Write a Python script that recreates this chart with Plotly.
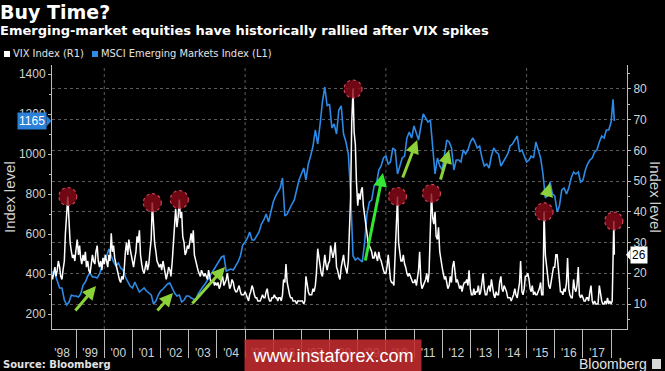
import pandas as pd
import plotly.graph_objects as go

# ---------------- data ----------------
# VIX, semi-monthly (1st and 15th), Feb 1998 .. Jan 2018
vix_values = [
    21, 19, 18, 20, 22, 19, 21, 24, 22, 19, 18, 21, 24, 33, 40, 45, 37, 30, 27, 25, 26, 24,  # 1998 (Feb-Dec)
    28, 31, 26, 29, 25, 23, 26, 24, 27, 22, 24, 21, 20, 23, 26, 24, 23, 27, 29, 24, 22, 24, 21, 25,  # 1999
    23, 26, 24, 22, 26, 24, 33, 27, 29, 25, 23, 21, 19, 18, 17, 19, 18, 21, 27, 30, 26, 31, 28, 26,  # 2000
    24, 22, 25, 27, 32, 30, 34, 26, 23, 21, 20, 22, 24, 21, 23, 27, 31, 43, 35, 30, 27, 24, 23, 22,  # 2001
    23, 21, 24, 22, 19, 18, 20, 22, 21, 19, 24, 30, 36, 41, 35, 38, 44, 38, 40, 32, 30, 26, 27, 29,  # 2002
    28, 31, 33, 30, 34, 26, 24, 22, 21, 20, 19, 21, 20, 19, 20, 19, 18, 21, 19, 17, 17, 18, 16, 17,  # 2003
    16, 17, 15, 16, 18, 19, 16, 17, 18, 20, 17, 15, 16, 18, 17, 15, 14, 14, 15, 16, 14, 13, 13, 13,  # 2004
    14, 13, 12, 11, 13, 14, 16, 15, 13, 12, 12, 11, 11, 11, 12, 13, 12, 12, 14, 15, 12, 11, 11, 12,  # 2005
    12, 13, 12, 12, 11, 12, 12, 11, 13, 18, 17, 23, 17, 15, 13, 12, 12, 11, 11, 11, 10, 11, 11, 11,  # 2006
    11, 11, 10, 11, 19, 16, 14, 13, 13, 13, 15, 14, 16, 20, 28, 25, 22, 20, 19, 22, 26, 23, 21, 23,  # 2007
    24, 29, 26, 25, 27, 30, 22, 21, 19, 18, 22, 24, 26, 23, 21, 20, 24, 36, 45, 69, 80, 66, 62, 50,  # 2008
    42, 46, 44, 47, 48, 42, 38, 36, 33, 30, 29, 28, 27, 25, 25, 27, 25, 24, 27, 25, 24, 22, 21, 20,  # 2009
    20, 22, 26, 22, 18, 17, 17, 16, 28, 35, 45, 30, 27, 24, 24, 26, 23, 22, 20, 19, 20, 19, 18, 17,  # 2010
    17, 18, 16, 18, 21, 27, 17, 15, 16, 17, 18, 20, 17, 20, 32, 46, 38, 36, 40, 32, 31, 35, 27, 24,  # 2011
    22, 20, 18, 19, 17, 15, 16, 19, 17, 22, 24, 20, 17, 18, 16, 15, 16, 14, 16, 17, 17, 18, 16, 21,  # 2012
    15, 13, 13, 15, 13, 14, 14, 16, 13, 14, 17, 20, 15, 13, 13, 15, 16, 14, 18, 15, 13, 12, 14, 13,  # 2013
    13, 17, 19, 15, 14, 16, 15, 14, 12, 12, 12, 11, 12, 13, 15, 13, 12, 14, 17, 24, 14, 13, 15, 19,  # 2014
    19, 20, 18, 15, 14, 16, 13, 14, 13, 13, 14, 15, 17, 13, 13, 40, 26, 23, 20, 16, 15, 17, 19, 22,  # 2015
    22, 26, 26, 22, 17, 14, 14, 13, 15, 14, 17, 25, 15, 13, 12, 12, 18, 15, 14, 16, 22, 13, 12, 13,  # 2016
    12, 11, 11, 12, 12, 11, 14, 16, 11, 10, 11, 10, 10, 10, 16, 13, 11, 10, 10, 11, 10, 12, 10, 11,  # 2017
    10, 11,  # 2018 (Jan)
]
vix_start = "1998-02-01"
vix_tail_dates = ["2018-02-05", "2018-02-12"]
vix_tail_values = [37, 26]

# MSCI Emerging Markets Index, monthly (1st of month), Feb 1998 .. Jan 2018
msci_values = [
    400, 410, 400, 370, 330, 330, 270, 245, 260, 295, 290,  # 1998 (Feb-Dec)
    290, 285, 300, 345, 360, 390, 405, 385, 385, 380, 400, 440,  # 1999
    475, 490, 525, 490, 460, 440, 455, 430, 420, 385, 360, 340,  # 2000
    330, 360, 335, 310, 320, 330, 315, 305, 295, 250, 265, 295,  # 2001
    315, 325, 335, 350, 355, 330, 305, 290, 295, 260, 270, 290,  # 2002
    290, 280, 275, 270, 300, 320, 335, 350, 370, 385, 405, 425,  # 2003
    450, 470, 485, 490, 415, 420, 425, 420, 440, 460, 490, 545,  # 2004
    560, 580, 610, 570, 570, 590, 610, 650, 670, 700, 660, 710,  # 2005
    760, 790, 810, 830, 880, 690, 700, 730, 750, 770, 830, 870,  # 2006
    900, 930, 870, 950, 990, 1040, 1120, 1050, 1150, 1260, 1335, 1240,  # 2007
    1250, 1130, 1150, 1100, 1220, 1240, 1100, 1060, 1000, 800, 490, 470,  # 2008
    480, 470, 460, 560, 700, 760, 770, 840, 850, 920, 940, 980,  # 2009
    990, 950, 960, 1030, 1020, 900, 940, 980, 990, 1080, 1110, 1080,  # 2010
    1140, 1100, 1070, 1140, 1200, 1180, 1160, 1170, 1050, 900, 980, 940,  # 2011
    920, 1000, 1070, 1060, 1030, 920, 970, 970, 960, 1020, 1000, 1020,  # 2012
    1060, 1080, 1060, 1030, 1040, 980, 940, 950, 930, 990, 1030, 1010,  # 2013
    1000, 940, 960, 980, 1000, 1040, 1050, 1070, 1090, 1010, 1020, 990,  # 2014
    960, 970, 990, 980, 1060, 1020, 980, 900, 780, 800, 860, 800,  # 2015
    790, 710, 740, 820, 830, 800, 830, 880, 910, 900, 910, 860,  # 2016
    870, 920, 950, 970, 980, 1010, 1020, 1060, 1090, 1080, 1120, 1120,  # 2017
    1160,  # 2018 (Jan)
]
msci_start = "1998-02-01"
msci_tail_dates = ["2018-01-26", "2018-02-12"]
msci_tail_values = [1273, 1165]

# VIX spikes that are circled
spike_dates = ["1998-09-15", "2001-09-15", "2002-09-01", "2008-11-01",
               "2010-06-01", "2011-08-15", "2015-08-15", "2018-02-05"]
spike_values = [45, 43, 44, 80, 45, 46, 40, 37]

# green "rally" arrows on the MSCI scale
arrow_tail_dates = ["1998-12-06", "2001-11-03", "2003-01-30", "2009-04-06",
                    "2010-07-31", "2011-12-05", "2015-09-09"]
arrow_tail_values = [210, 210, 245, 460, 875, 865, 780]
arrow_head_dates = ["1999-09-16", "2002-06-10", "2004-04-16", "2009-11-24",
                    "2011-02-11", "2012-04-01", "2015-10-30"]
arrow_head_values = [340, 305, 435, 905, 1070, 1020, 855]
arrow_colors = ["#8cd13a", "#8cd13a", "#8cd13a", "#33e633", "#8cd13a", "#8cd13a", "#8cd13a"]

year_labels = ["'98", "'99", "'00", "'01", "'02", "'03", "'04", "'05", "'06", "'07",
               "'08", "'09", "'10", "'11", "'12", "'13", "'14", "'15", "'16", "'17"]
label_years = list(range(1998, 2018))
separator_years = list(range(1999, 2019))
vgrid_years = [2000, 2005, 2010, 2015]

last_msci_label = "1165"
last_msci_value = 1165
last_vix_label = "26"
last_vix_value = 26

# ---------------- build ----------------
vix_dates = [d.strftime("%Y-%m-%d") for d in
             pd.date_range(vix_start, periods=len(vix_values), freq="SMS")] + vix_tail_dates
vix_all = vix_values + vix_tail_values
msci_dates = [d.strftime("%Y-%m-%d") for d in
              pd.date_range(msci_start, periods=len(msci_values), freq="MS")] + msci_tail_dates
msci_all = msci_values + msci_tail_values

W, H = 665, 371
ML, MR, MT, MB = 52, 38, 65, 42
PW, PH = W - ML - MR, H - MT - MB


def px_x(px):
    return (px - ML) / PW


def px_y(py):
    return (H - MB - py) / PH


BLUE = "#2d8ae6"
TICKC = "#d2d2d2"
AXC = "#bdbdbd"
SANS = "Liberation Sans, Arial, sans-serif"
BOLD = "DejaVu Sans, sans-serif"
COND = "DejaVu Sans Condensed, Liberation Sans Narrow, DejaVu Sans, sans-serif"

fig = go.Figure()
fig.add_trace(go.Scatter(x=msci_dates, y=msci_all, mode="lines", yaxis="y",
                         line=dict(color=BLUE, width=1.6), showlegend=False,
                         name="MSCI Emerging Markets Index (L1)"))
fig.add_trace(go.Scatter(x=vix_dates, y=vix_all, mode="lines", yaxis="y2",
                         line=dict(color="#ffffff", width=1.5), showlegend=False,
                         name="VIX Index (R1)"))

shapes = []
# vertical dotted gridlines
for yr in vgrid_years:
    shapes.append(dict(type="line", xref="x", yref="paper", x0=f"{yr}-01-01", x1=f"{yr}-01-01",
                       y0=0, y1=1, line=dict(color="#5c5c5c", width=1, dash="dot"), layer="below"))
# circles on spikes
for d, v in zip(spike_dates, spike_values):
    shapes.append(dict(type="circle", xref="x", yref="y2", xsizemode="pixel", ysizemode="pixel",
                       xanchor=d, yanchor=v, x0=-9, x1=9, y0=-9, y1=9,
                       fillcolor="rgba(140,10,25,0.80)",
                       line=dict(color="#d84860", width=1.1, dash="dot"), layer="above"))
# legend squares
shapes.append(dict(type="rect", xref="paper", yref="paper", x0=px_x(4), x1=px_x(10),
                   y0=px_y(57), y1=px_y(51), fillcolor="#ffffff", line=dict(width=0)))
shapes.append(dict(type="rect", xref="paper", yref="paper", x0=px_x(92), x1=px_x(98),
                   y0=px_y(57), y1=px_y(51), fillcolor=BLUE, line=dict(width=0)))
# pointer tips of the last-value labels
dy1 = 5.5 * (1445 - 125) / PH
shapes.append(dict(type="path", xref="paper", yref="y",
                   path=f"M {px_x(46.5)},{last_msci_value + dy1} L {px_x(51.5)},{last_msci_value} "
                        f"L {px_x(46.5)},{last_msci_value - dy1} Z",
                   fillcolor="#2b80d8", line=dict(width=0)))
dy2 = 5.5 * (87.81 - 1.86) / PH
shapes.append(dict(type="path", xref="paper", yref="y2",
                   path=f"M {px_x(630.5)},{last_vix_value + dy2} L {px_x(626)},{last_vix_value} "
                        f"L {px_x(630.5)},{last_vix_value - dy2} Z",
                   fillcolor="#ffffff", line=dict(width=0)))
# bloomberg icon
shapes.append(dict(type="rect", xref="paper", yref="paper", x0=px_x(652), x1=px_x(661),
                   y0=px_y(369), y1=px_y(359), fillcolor="#d8d8d8", line=dict(width=0)))

annotations = []
annotations.append(dict(text="<b>Buy Time?</b>", xref="paper", yref="paper", x=px_x(-2), y=px_y(12),
                        xanchor="left", yanchor="middle", showarrow=False,
                        font=dict(family=BOLD, size=19, color="#ffffff")))
annotations.append(dict(text="<b>Emerging-market equities have historically rallied after VIX spikes</b>",
                        xref="paper", yref="paper", x=px_x(-2), y=px_y(31), xanchor="left",
                        yanchor="middle", showarrow=False,
                        font=dict(family=BOLD, size=13, color="#ffffff")))
annotations.append(dict(text="VIX Index (R1)", xref="paper", yref="paper", x=px_x(11), y=px_y(54),
                        xanchor="left", yanchor="middle", showarrow=False,
                        font=dict(family=COND, size=11, color="#e2e2e2")))
annotations.append(dict(text="MSCI Emerging Markets Index (L1)", xref="paper", yref="paper",
                        x=px_x(99), y=px_y(54), xanchor="left", yanchor="middle", showarrow=False,
                        font=dict(family=COND, size=11, color="#e2e2e2")))
annotations.append(dict(text="<b>Source: Bloomberg</b>", xref="paper", yref="paper", x=px_x(1),
                        y=px_y(364), xanchor="left", yanchor="middle", showarrow=False,
                        font=dict(family=BOLD, size=10, color="#e2e2e2")))
annotations.append(dict(text="Bloomberg", xref="paper", yref="paper", x=px_x(649), y=px_y(364),
                        xanchor="right", yanchor="middle", showarrow=False,
                        font=dict(family=SANS, size=14, color="#e2e2e2")))
# axis titles
annotations.append(dict(text="Index level", xref="paper", yref="paper", x=px_x(9), y=px_y(197),
                        xanchor="center", yanchor="middle", textangle=-90, showarrow=False,
                        font=dict(family=SANS, size=15, color=TICKC)))
annotations.append(dict(text="Index level", xref="paper", yref="paper", x=px_x(656), y=px_y(197),
                        xanchor="center", yanchor="middle", textangle=90, showarrow=False,
                        font=dict(family=SANS, size=15, color=TICKC)))
annotations.append(dict(text=last_msci_label, xref="paper", yref="y", x=px_x(47), y=last_msci_value,
                        xanchor="right", yanchor="middle", showarrow=False, bgcolor="#2b80d8",
                        borderpad=1, font=dict(family=SANS, size=12, color="#ffffff")))
annotations.append(dict(text=last_vix_label, xref="paper", yref="y2", x=px_x(630), y=last_vix_value,
                        xanchor="left", yanchor="middle", showarrow=False, bgcolor="#ffffff",
                        borderpad=1, font=dict(family=SANS, size=12, color="#000000")))
for td, tv, hd, hv, c in zip(arrow_tail_dates, arrow_tail_values, arrow_head_dates,
                             arrow_head_values, arrow_colors):
    annotations.append(dict(x=hd, y=hv, xref="x", yref="y", ax=td, ay=tv, axref="x", ayref="y",
                            text="", showarrow=True, arrowhead=2, arrowsize=0.9, arrowwidth=3,
                            arrowcolor=c, standoff=0))
# watermark
annotations.append(dict(text="www.instaforex.com", xref="paper", yref="paper", x=px_x(333),
                        y=px_y(355.5), xanchor="center", yanchor="middle", showarrow=False,
                        width=174, height=29, bgcolor="rgba(196,44,48,0.88)", borderpad=1,
                        font=dict(family=SANS, size=18, color="#ffffff")))

fig.update_layout(
    width=W, height=H,
    margin=dict(l=ML, r=MR, t=MT, b=MB, autoexpand=False),
    paper_bgcolor="#000000", plot_bgcolor="#000000",
    showlegend=False,
    font=dict(family=SANS, color=TICKC, size=12),
    xaxis=dict(
        type="date", range=["1998-02-22", "2018-07-26"],
        tickmode="array", tickvals=[f"{y}-07-02" for y in label_years], ticktext=year_labels,
        ticks="outside", ticklen=13, tickcolor="rgba(0,0,0,0)",
        tickfont=dict(family=SANS, size=12, color=TICKC),
        showgrid=False, zeroline=False, showline=True, linecolor=AXC, linewidth=1,
        minor=dict(tickmode="array", tickvals=[f"{y}-01-01" for y in separator_years],
                   ticks="outside", ticklen=28, tickwidth=1, tickcolor=AXC, showgrid=False),
    ),
    yaxis=dict(
        range=[125, 1445], tick0=0, dtick=200, ticks="outside", ticklen=3, tickcolor=AXC,
        tickfont=dict(family=SANS, size=12, color=TICKC),
        showgrid=False, zeroline=False, showline=True, linecolor=AXC, linewidth=1,
        minor=dict(dtick=100, tick0=0, ticks="outside", ticklen=2, tickcolor=AXC, showgrid=False),
    ),
    yaxis2=dict(
        range=[1.86, 87.81], overlaying="y", side="right", tick0=0, dtick=10,
        ticks="outside", ticklen=3, tickcolor=AXC,
        tickfont=dict(family=SANS, size=12, color=TICKC),
        showgrid=True, gridcolor="#5c5c5c", griddash="dot", gridwidth=1,
        zeroline=False, showline=True, linecolor=AXC, linewidth=1,
        minor=dict(dtick=5, tick0=0, ticks="outside", ticklen=2, tickcolor=AXC, showgrid=False),
    ),
    shapes=shapes,
    annotations=annotations,
)

fig.write_html("out.html", config={"displayModeBar": False},
               post_script="document.body.style.margin='0';document.body.style.overflow='hidden';")
